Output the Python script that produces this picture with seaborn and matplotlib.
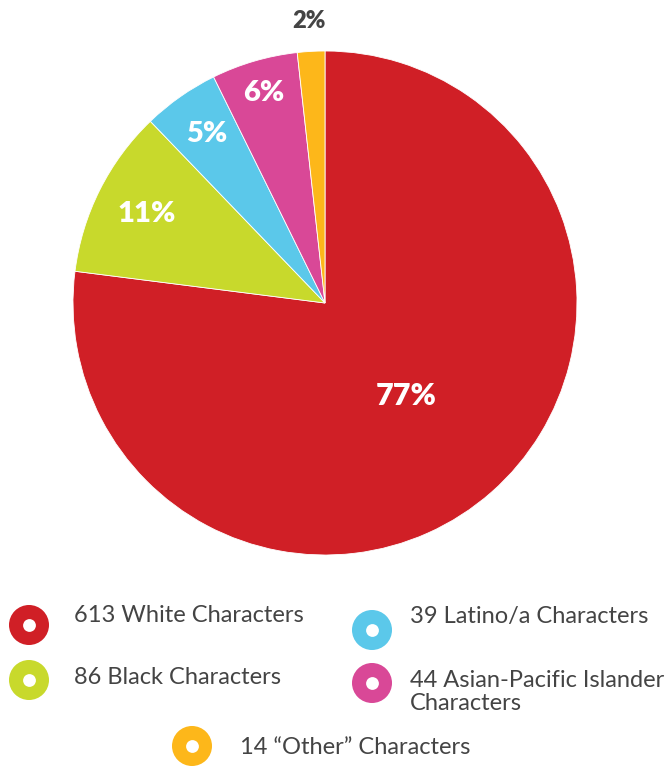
import numpy as np
import matplotlib
matplotlib.use("Agg")
import matplotlib.pyplot as plt
import seaborn as sns

# data
groups = ["White", "Black", "Latino/a", "Asian-Pacific Islander", "\u201cOther\u201d"]
counts = [613, 86, 39, 44, 14]
legend_labels = [
    "613 White Characters",
    "86 Black Characters",
    "39 Latino/a Characters",
    "44 Asian-Pacific Islander\nCharacters",
    "14 \u201cOther\u201d Characters",
]

# styles
colors = ["#D01F26", "#C8D92C", "#5BC8EA", "#D94897", "#FDB71A"]
label_radius = [0.49, 0.79, 0.82, 0.87, 1.12]
label_color = ["white", "white", "white", "white", "#444444"]
label_size = [22, 21, 21, 21, 17]
# legend positions in pixels (marker x, marker y, text x, text y)
leg_pos = [(29, 625, 74, 616), (29, 680, 74, 677), (372, 630, 410, 617),
           (372, 683, 410, 692), (192, 746, 240, 747)]

sns.set_theme(style="white")
plt.rcParams["font.family"] = ["Lato", "DejaVu Sans"]

fig = plt.figure(figsize=(6.7, 7.66), dpi=100)

# pie
cx, cy, r = 325, 303, 252
ax = fig.add_axes([(cx - r) / 670, (766 - cy - r) / 766, 2 * r / 670, 2 * r / 766])
wedges, _ = ax.pie(counts, colors=colors, startangle=90, counterclock=False,
                   wedgeprops=dict(edgecolor="white", linewidth=0.6))
ax.set_xlim(-1, 1)
ax.set_ylim(-1, 1)
ax.set_aspect("equal")
ax.axis("off")

total = sum(counts)
for w, c, rad, col, fs in zip(wedges, counts, label_radius, label_color, label_size):
    mid = np.deg2rad((w.theta1 + w.theta2) / 2)
    ax.text(rad * np.cos(mid), rad * np.sin(mid), f"{round(100 * c / total)}%",
            ha="center", va="center", color=col, fontsize=fs, fontweight="heavy",
            clip_on=False)

# legend overlay in pixel coords
lax = fig.add_axes([0, 0, 1, 1])
lax.set_xlim(0, 670)
lax.set_ylim(766, 0)
lax.axis("off")
mx = [p[0] for p in leg_pos]
my = [p[1] for p in leg_pos]
sns.scatterplot(x=mx, y=my, hue=groups, palette=colors, s=830, linewidth=0,
                legend=False, ax=lax)
lax.scatter(mx, my, s=85, color="white", linewidth=0, zorder=3)
for (px, py, tx, ty), lab in zip(leg_pos, legend_labels):
    lax.text(tx, ty, lab, ha="left", va="center", fontsize=17, color="#444444",
             linespacing=1.15)

fig.savefig("out.png", dpi=100)
